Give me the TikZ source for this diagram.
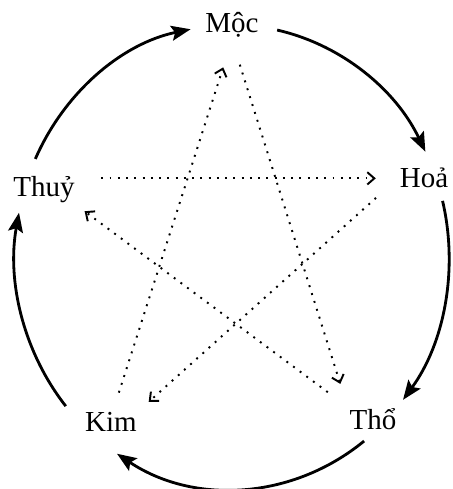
\documentclass[tikz,border=0pt]{standalone}
\usepackage{fontspec}
\setmainfont{Liberation Serif}
\usetikzlibrary{arrows.meta}

\begin{document}
\begin{tikzpicture}[x=0.02cm, y=0.02cm,
  element/.style={anchor=base, inner sep=1pt, font=\fontsize{16.5}{20}\selectfont},
  sinharrow/.style={line width=1.6pt, -{Stealth[length=11pt,width=8.5pt,inset=2pt]}},
  khacarrow/.style={line width=1.1pt, dash pattern=on 1.1pt off 3.6pt, -{Straight Barb[length=4pt,width=7pt]}}]

\useasboundingbox (0,0) rectangle (452,489);

% Centre of the circle
\coordinate (O) at (232,232);

% Elements
\node[element] (moc) at (232,456) {Mộc};
\node[element] (hoa) at (424,301) {Hoả};
\node[element] (tho) at (373,59) {Thổ};
\node[element] (kim) at (111,57) {Kim};
\node[element] (thuy) at (44,292) {Thuỷ};

% Generating cycle (arcs of the circle)
\foreach \a/\b in {155/101, 78/27, 14/-38, -52.5/-122, 220/169}
  \draw[sinharrow] (O) ++(\a:217 and 232) arc[start angle=\a, end angle=\b, x radius=217, y radius=232];

% Controlling star
\draw[khacarrow, shorten <=10.8pt, shorten >=16.4pt] (kim.80) -- (moc.south);
\draw[khacarrow, shorten <=14.8pt, shorten >=13.7pt] (moc.south) -- (tho.north west);
\draw[khacarrow, shorten <=14pt, shorten >=12.5pt] (thuy.east |- hoa.west) -- (hoa.west);
\draw[khacarrow, shorten <=16.6pt, shorten >=7.5pt] (hoa.west) -- (kim.north east);
\draw[khacarrow, shorten <=14pt, shorten >=5.6pt] (tho.north west) -- (thuy.south east);

\end{tikzpicture}
\end{document}
